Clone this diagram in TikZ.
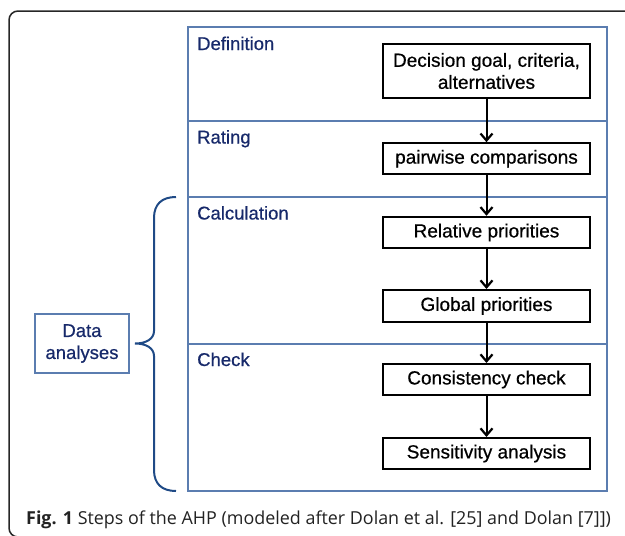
\documentclass[tikz,border=0pt]{standalone}
\usepackage{fontspec}
\setmainfont{Liberation Sans}[FakeBold=0.6]
\newfontfamily\capfont{Open Sans}
\usetikzlibrary{arrows.meta}
\definecolor{frameblue}{HTML}{5B7DB0}
\definecolor{bracec}{HTML}{1F4A86}
\definecolor{navy}{HTML}{17296A}
\definecolor{capgray}{HTML}{222222}
\tikzset{
  stepbox/.style={draw=black, line width=2pt, minimum width=207pt, inner sep=0pt, align=center, font=\fontsize{19}{22}\selectfont},
  seclabel/.style={anchor=base west, inner sep=0pt, text=navy, font=\fontsize{18.5}{22}\selectfont},
  flow/.style={draw=black, line width=2pt, -{Straight Barb[length=7pt,width=12pt,line width=2.2pt]}},
  divider/.style={draw=frameblue, line width=1.2pt},
}
\begin{document}
\begin{tikzpicture}[x=1pt,y=-1pt]
\useasboundingbox (0,0) rectangle (625,536);
\clip (0,0) rectangle (625,536);
% outer frame
\draw[draw=black!85, line width=1.5pt, rounded corners=9pt] (9,11) rectangle (650,537);
% main box
\draw[divider] (188,27) rectangle (607,491);
\draw[divider] (188,121) -- (607,121);
\draw[divider] (188,197) -- (607,197);
\draw[divider] (188,344) -- (607,344);
% section labels
\node[seclabel] (ldef) at (197,50) {Definition};
\node[seclabel] (lrat) at (197,143.5) {Rating};
\node[seclabel] (lcal) at (197,219.5) {Calculation};
\node[seclabel] (lchk) at (197,366) {Check};
% step boxes
\node[stepbox, minimum height=54pt] (goal) at (486.5,71) {Decision goal, criteria,\\alternatives};
\node[stepbox, minimum height=31pt] (pair) at (486.5,158.7) {pairwise comparisons};
\node[stepbox, minimum height=31.5pt] (rel) at (486.5,232.5) {Relative priorities};
\node[stepbox, minimum height=32pt] (glob) at (486.5,306) {Global priorities};
\node[stepbox, minimum height=31pt] (cons) at (486.5,379.5) {Consistency check};
\node[stepbox, minimum height=31pt] (sens) at (486.5,453.5) {Sensitivity analysis};
% arrows
\draw[flow] (goal) -- (pair);
\draw[flow] (pair) -- (rel);
\draw[flow] (rel) -- (glob);
\draw[flow] (glob) -- (cons);
\draw[flow] (cons) -- (sens);
% data analyses box
\node[draw=frameblue, line width=1.2pt, minimum width=94pt, minimum height=59pt, inner sep=0pt, align=center, text=navy, font=\fontsize{18.5}{22}\selectfont] (data) at (82,343.5) {Data\\analyses};
% brace
\coordinate (btop) at (176,197);
\coordinate (bbot) at (176,491);
\coordinate (btip) at (135,343.5);
\draw[draw=bracec, line width=2pt]
  (btop) .. controls (162,197) and (154,204) .. (154,218)
  -- (154,331)
  .. controls (154,339) and (146,343.5) .. (btip)
  .. controls (146,343.5) and (154,348) .. (154,356)
  -- (154,470)
  .. controls (154,484) and (162,491) .. (bbot);
% caption
\node[anchor=base west, inner sep=0pt, text=capgray, font=\capfont\fontsize{17.9}{20}\selectfont] (cap) at (26,524.5) {\textbf{Fig. 1} Steps of the AHP (modeled after Dolan et al. [25] and Dolan [7]])};
\end{tikzpicture}
\end{document}
